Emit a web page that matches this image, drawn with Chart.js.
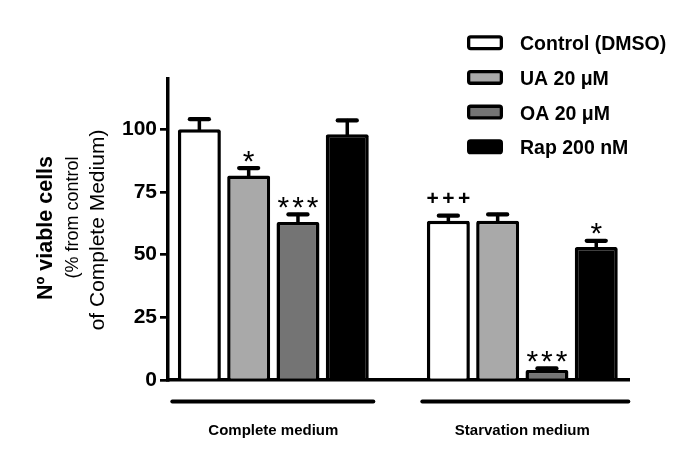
<!DOCTYPE html>
<html>
<head>
<meta charset="utf-8">
<script src="https://cdn.jsdelivr.net/npm/chart.js@4.4.1/dist/chart.umd.min.js"></script>
<style>
  html, body { margin: 0; padding: 0; background: #ffffff; }
  canvas { display: block; }
</style>
</head>
<body>
<canvas id="chart" width="683" height="465"></canvas>
<script>
// Groups along the x axis
const groups = ['Complete medium', 'Starvation medium'];

// Treatments (one bar series each)
const seriesNames = ['Control (DMSO)', 'UA 20 μM', 'OA 20 μM', 'Rap 200 nM'];

// Mean number of viable cells, % of control in complete medium
const controlMean = [100, 63.5];
const uaMean = [81.5, 63.5];
const oaMean = [63, 4];
const rapMean = [98, 53];

// Standard error of the mean
const controlSem = [4, 2];
const uaSem = [3, 2.5];
const oaSem = [3, 0.6];
const rapSem = [5.5, 2.5];

// Significance marks written above each bar
const controlMarks = ['', '+++'];
const uaMarks = ['*', ''];
const oaMarks = ['***', '***'];
const rapMarks = ['', '*'];

// Value axis ticks
const yTicks = [0, 25, 50, 75, 100];

const FONT = "'Liberation Sans', Arial, Helvetica, sans-serif";
Chart.defaults.font.family = FONT;
Chart.defaults.color = '#000';

const fills = ['#ffffff', '#a9a9a9', '#747474', '#000000'];
const means = [controlMean, uaMean, oaMean, rapMean];
const sems = [controlSem, uaSem, oaSem, rapSem];
const marks = [controlMarks, uaMarks, oaMarks, rapMarks];

const datasets = seriesNames.map((name, s) => ({
  label: name,
  data: groups.map((g, i) => ({ x: i, y: means[s][i] })),
  sem: sems[s],
  marks: marks[s],
  backgroundColor: fills[s],
  borderColor: '#000',
  borderWidth: 3.5,
  borderRadius: 2,
  borderSkipped: 'start',
  categoryPercentage: 0.792,
  barPercentage: 0.872
}));

// Error bars plus the significance symbols above them
const errorBars = {
  id: 'errorBars',
  afterDatasetsDraw(chart, args, opts) {
    const ctx = chart.ctx;
    const yScale = chart.scales.y;
    chart.data.datasets.forEach((ds, di) => {
      const meta = chart.getDatasetMeta(di);
      meta.data.forEach((bar, i) => {
        const top = yScale.getPixelForValue(ds.data[i].y + ds.sem[i]);
        ctx.save();
        ctx.strokeStyle = '#000';
        ctx.lineCap = 'round';
        ctx.lineWidth = opts.stemWidth;
        ctx.beginPath();
        ctx.moveTo(bar.x, bar.y);
        ctx.lineTo(bar.x, top);
        ctx.stroke();
        ctx.lineWidth = opts.capWidth;
        ctx.beginPath();
        ctx.moveTo(bar.x - opts.capHalf, top);
        ctx.lineTo(bar.x + opts.capHalf, top);
        ctx.stroke();

        const mark = ds.marks[i];
        if (mark) {
          const plus = mark.charAt(0) === '+';
          const style = plus ? opts.plus : opts.star;
          ctx.fillStyle = '#000';
          ctx.font = style.font;
          ctx.textAlign = 'center';
          ctx.textBaseline = 'alphabetic';
          if ('letterSpacing' in ctx) ctx.letterSpacing = style.spacing + 'px';
          ctx.fillText(mark, bar.x + style.spacing / 2, top + style.dy);
        }
        ctx.restore();
      });
    });
  }
};

// Thick lines under each group of bars
const groupLines = {
  id: 'groupLines',
  afterDraw(chart, args, opts) {
    const ctx = chart.ctx;
    const xScale = chart.scales.x;
    const y = chart.chartArea.bottom + opts.offset;
    ctx.save();
    ctx.strokeStyle = '#000';
    ctx.lineWidth = opts.width;
    ctx.lineCap = 'round';
    groups.forEach((g, i) => {
      const c = xScale.getPixelForValue(i);
      const span = opts.spans[i];
      ctx.beginPath();
      ctx.moveTo(c + span[0], y);
      ctx.lineTo(c + span[1], y);
      ctx.stroke();
    });
    ctx.restore();
  }
};

// Vertical list legend placed inside the plot, top right
const boxLegend = {
  id: 'boxLegend',
  afterDraw(chart, args, opts) {
    const ctx = chart.ctx;
    ctx.save();
    chart.data.datasets.forEach((ds, i) => {
      const cy = opts.top + i * opts.step;
      const bw = opts.boxWidth, bh = opts.boxHeight, lw = opts.lineWidth;
      ctx.beginPath();
      ctx.roundRect(opts.left + lw / 2, cy - bh / 2 + lw / 2, bw - lw, bh - lw, 2);
      ctx.fillStyle = ds.backgroundColor;
      ctx.fill();
      ctx.lineWidth = lw;
      ctx.strokeStyle = '#000';
      ctx.stroke();
      ctx.fillStyle = '#000';
      ctx.font = opts.font;
      ctx.textAlign = 'left';
      ctx.textBaseline = 'alphabetic';
      ctx.fillText(ds.label, opts.textLeft, cy + opts.textDy);
    });
    ctx.restore();
  }
};

// Three-line rotated y axis title (first line bold)
const yTitle = {
  id: 'yTitle',
  afterDraw(chart, args, opts) {
    const ctx = chart.ctx;
    ctx.save();
    ctx.fillStyle = '#000';
    ctx.textAlign = 'center';
    ctx.textBaseline = 'alphabetic';
    opts.lines.forEach(line => {
      ctx.save();
      ctx.translate(line.x, line.y);
      ctx.rotate(-Math.PI / 2);
      ctx.font = line.font;
      ctx.fillText(line.text, 0, 0);
      ctx.restore();
    });
    ctx.restore();
  }
};

new Chart(document.getElementById('chart'), {
  type: 'bar',
  data: { datasets },
  plugins: [errorBars, groupLines, boxLegend, yTitle],
  options: {
    responsive: false,
    animation: false,
    devicePixelRatio: 1,
    layout: { padding: { left: 0, top: 79, right: 54, bottom: 0 } },
    scales: {
      x: {
        type: 'linear',
        offset: false,
        min: -0.423,
        max: 1.4285,
        afterBuildTicks: s => { s.ticks = groups.map((g, i) => ({ value: i })); },
        afterFit: s => { s.height = 85; },
        ticks: {
          callback: v => groups[v],
          font: { size: 15, weight: 'bold' },
          color: '#000',
          padding: 42,
          maxRotation: 0,
          autoSkip: false
        },
        grid: { display: false, drawTicks: false, offset: false },
        border: { display: true, color: '#000', width: 3.5 }
      },
      y: {
        min: 0,
        max: 120,
        afterBuildTicks: s => { s.ticks = yTicks.map(v => ({ value: v })); },
        afterFit: s => { s.width = 168; },
        ticks: { font: { size: 21, weight: 'bold' }, color: '#000', padding: 3 },
        grid: { drawOnChartArea: false, drawTicks: true, tickLength: 8, color: '#000', lineWidth: 2.7 },
        border: { display: true, color: '#000', width: 3.5 }
      }
    },
    plugins: {
      legend: { display: false },
      tooltip: { enabled: false },
      errorBars: {
        stemWidth: 3.5,
        capWidth: 4.3,
        capHalf: 9.5,
        star: { font: '30px ' + FONT, spacing: 3, dy: 2.5 },
        plus: { font: 'bold 21px ' + FONT, spacing: 3.5, dy: -11 }
      },
      groupLines: { offset: 21.5, width: 4, spans: [[-101, 100], [-100, 106]] },
      boxLegend: {
        left: 467, top: 42.7, step: 34.7,
        boxWidth: 36, boxHeight: 15, lineWidth: 3.3,
        textLeft: 520, textDy: 7.5,
        font: 'bold 19.5px ' + FONT
      },
      yTitle: {
        lines: [
          { text: 'Nº viable cells', x: 51.5, y: 228, font: 'bold 21.5px ' + FONT },
          { text: '(% from control', x: 77.5, y: 217.5, font: '18px ' + FONT },
          { text: 'of Complete Medium)', x: 103.5, y: 230, font: '21px ' + FONT }
        ]
      }
    }
  }
});
</script>
</body>
</html>
